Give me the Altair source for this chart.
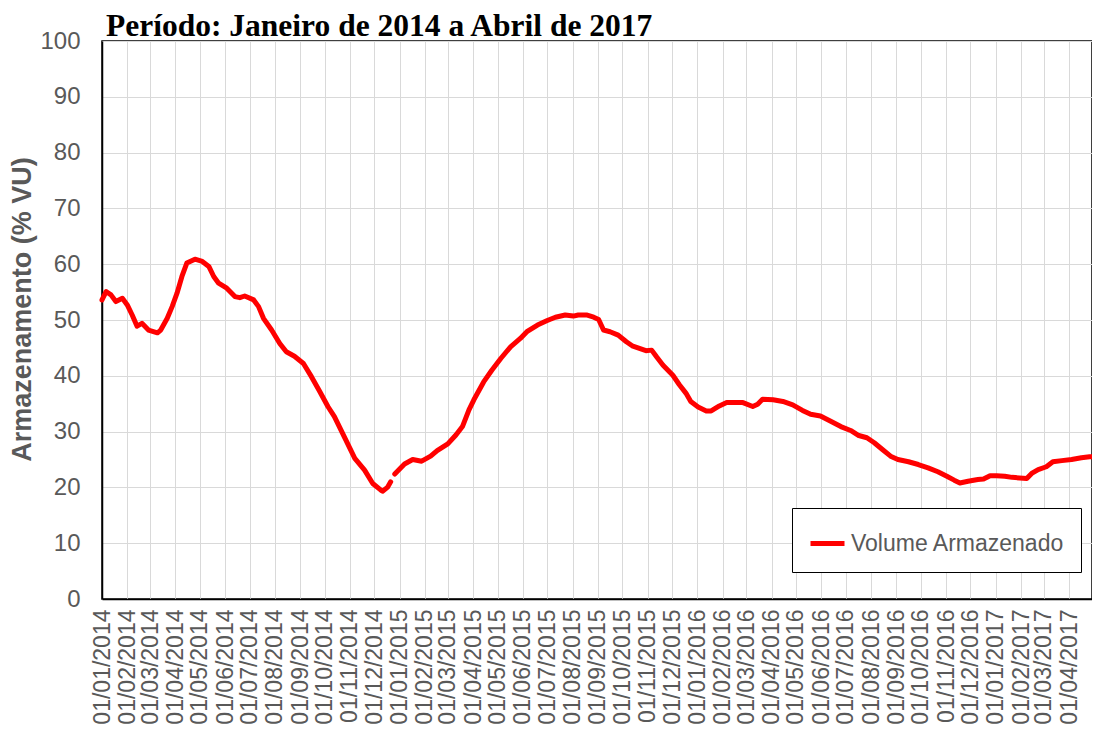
import altair as alt
import pandas as pd

datas = [
    "2014-01-01", "2014-01-06", "2014-01-12", "2014-01-18", "2014-01-26", "2014-02-01",
    "2014-02-07", "2014-02-13", "2014-02-19", "2014-02-27", "2014-03-10", "2014-03-14",
    "2014-03-22", "2014-03-28", "2014-04-03", "2014-04-09", "2014-04-15", "2014-04-25",
    "2014-05-04", "2014-05-12", "2014-05-18", "2014-05-24", "2014-06-03", "2014-06-13",
    "2014-06-19", "2014-06-25", "2014-07-06", "2014-07-12", "2014-07-18", "2014-07-28",
    "2014-08-07", "2014-08-15", "2014-08-25", "2014-09-05", "2014-09-15", "2014-09-25",
    "2014-10-05", "2014-10-13", "2014-10-25", "2014-11-07", "2014-11-19", "2014-11-29",
    "2014-12-09", "2014-12-11", "2014-12-17", "2014-12-21",
    "2014-12-26", "2015-01-07", "2015-01-17", "2015-01-28", "2015-02-08", "2015-02-16",
    "2015-03-01", "2015-03-11", "2015-03-19", "2015-03-27", "2015-04-02", "2015-04-14",
    "2015-04-24", "2015-05-05", "2015-05-17", "2015-05-29", "2015-06-06", "2015-06-19",
    "2015-07-01", "2015-07-11", "2015-07-23", "2015-08-02", "2015-08-08", "2015-08-18",
    "2015-08-27", "2015-09-02", "2015-09-08", "2015-09-16", "2015-09-26", "2015-10-06",
    "2015-10-14", "2015-10-22", "2015-10-30", "2015-11-06", "2015-11-12", "2015-11-20",
    "2015-12-02", "2015-12-10", "2015-12-18", "2015-12-24", "2016-01-02", "2016-01-12",
    "2016-01-18", "2016-01-28", "2016-02-06", "2016-02-26", "2016-03-09", "2016-03-15",
    "2016-03-21", "2016-04-03", "2016-04-15", "2016-04-27", "2016-05-09", "2016-05-19",
    "2016-05-31", "2016-06-12", "2016-06-25", "2016-07-07", "2016-07-17", "2016-07-27",
    "2016-08-05", "2016-08-15", "2016-08-25", "2016-09-03", "2016-09-16", "2016-09-28",
    "2016-10-10", "2016-10-22", "2016-11-02", "2016-11-11", "2016-11-18", "2016-11-28",
    "2016-12-10", "2016-12-17", "2016-12-25", "2017-01-02", "2017-01-12", "2017-01-21",
    "2017-02-08", "2017-02-14", "2017-02-22", "2017-03-04", "2017-03-12", "2017-03-23",
    "2017-04-04", "2017-04-16", "2017-04-26", "2017-04-29",
]

valores = [
    53.6, 55.1, 54.5, 53.3, 53.9, 52.7,
    50.9, 48.9, 49.4, 48.2, 47.7, 48.2,
    50.3, 52.4, 54.8, 57.8, 60.2, 60.9,
    60.5, 59.6, 57.8, 56.6, 55.7, 54.2,
    54.0, 54.3, 53.6, 52.4, 50.3, 48.2,
    45.8, 44.3, 43.5, 42.2, 39.8, 37.2,
    34.5, 32.7, 29.1, 25.2, 23.1, 20.7,
    19.5, 19.3, 20.0, 21.0,
    22.4, 24.2, 25.0, 24.7, 25.6, 26.6,
    27.8, 29.4, 30.9, 33.9, 35.7, 38.9,
    41.0, 43.1, 45.2, 46.7, 47.9, 49.1,
    49.9, 50.5, 50.9, 50.7, 50.9, 50.9,
    50.5, 50.1, 48.2, 47.9, 47.3, 46.1,
    45.3, 44.9, 44.5, 44.6, 43.4, 41.9,
    40.1, 38.4, 36.9, 35.4, 34.4, 33.7,
    33.7, 34.6, 35.2, 35.2, 34.5, 34.9,
    35.8, 35.7, 35.4, 34.8, 33.8, 33.1,
    32.8, 31.9, 30.9, 30.2, 29.3, 28.9,
    28.0, 26.8, 25.6, 25.0, 24.6, 24.1,
    23.5, 22.8, 22.0, 21.3, 20.8, 21.1,
    21.4, 21.5, 22.1, 22.1, 22.0, 21.8,
    21.6, 22.5, 23.2, 23.7, 24.6, 24.8,
    25.0, 25.3, 25.5, 25.5,
]

# the series has a short gap in late December 2014
fim_primeiro_trecho = "2014-12-21"
serie_nome = "Volume Armazenado"
y_ticks = list(range(0, 101, 10))

df = pd.DataFrame({"data": datas, "valor": valores})
df["serie"] = serie_nome
df["trecho"] = ["a" if d <= fim_primeiro_trecho else "b" for d in datas]

cinza = "#595959"

chart = (
    alt.Chart(df)
    .mark_line(strokeWidth=5, strokeJoin="round", strokeCap="round")
    .encode(
        x=alt.X(
            "data:T",
            scale=alt.Scale(
                type="utc",
                domain=[
                    alt.DateTime(year=2014, month=1, date=1, utc=True),
                    alt.DateTime(year=2017, month=4, date=29, utc=True),
                ],
            ),
            axis=alt.Axis(
                title=None,
                format="%d/%m/%Y",
                tickCount={"interval": "month", "step": 1},
                labelAngle=270,
                labelFont="Liberation Sans",
                labelFontSize=23,
                labelColor=cinza,
                labelPadding=10,
                labelOverlap=False,
                labelFlush=False,
                labelBound=False,
                ticks=False,
                domainColor="black",
                domainWidth=1.5,
                gridColor="#d9d9d9",
                gridWidth=1,
            ),
        ),
        y=alt.Y(
            "valor:Q",
            scale=alt.Scale(domain=[0, 100], nice=False),
            axis=alt.Axis(
                title="Armazenamento (% VU)",
                values=y_ticks,
                titleFont="Liberation Sans",
                titleFontSize=27,
                titleFontWeight="bold",
                titleColor=cinza,
                titlePadding=3,
                titleY=268,
                labelFont="Liberation Sans",
                labelFontSize=24,
                labelColor=cinza,
                labelPadding=22,
                ticks=False,
                domainColor="black",
                domainWidth=1.5,
                gridColor="#d9d9d9",
                gridWidth=1,
            ),
        ),
        color=alt.Color(
            "serie:N",
            scale=alt.Scale(domain=[serie_nome], range=["#FF0000"]),
            legend=alt.Legend(
                title=None,
                orient="none",
                legendX=690,
                legendY=467,
                strokeColor="black",
                fillColor="white",
                padding=16,
                symbolType="stroke",
                symbolStrokeWidth=5,
                symbolSize=1156,
                labelFont="Liberation Sans",
                labelFontSize=23,
                labelColor=cinza,
                labelOffset=4,
                labelLimit=400,
            ),
        ),
        detail="trecho:N",
    )
    .properties(
        width=990,
        height=558,
        autosize=alt.AutoSizeParams(type="none"),
        padding={"left": 94, "top": 33, "right": 0, "bottom": 131},
        background="white",
        title=alt.TitleParams(
            text="Período: Janeiro de 2014 a Abril de 2017",
            font="Liberation Serif",
            fontSize=31.5,
            fontWeight="bold",
            color="black",
            anchor="start",
            frame="group",
            offset=5,
            dx=4,
            dy=18,
        ),
    )
    .configure_view(stroke="black", strokeWidth=1.5)
)

chart.save("out.html", embed_options={"renderer": "svg", "actions": False})
